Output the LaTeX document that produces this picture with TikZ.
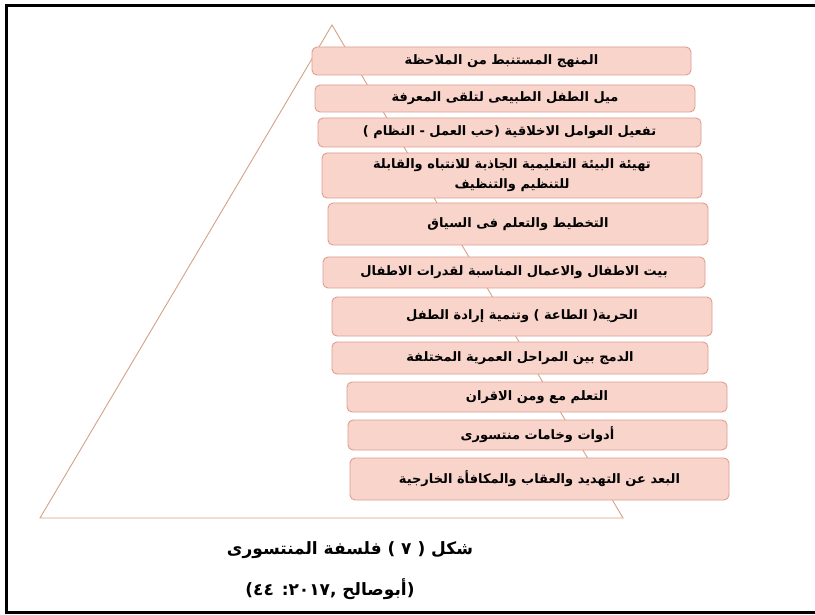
\documentclass[tikz,border=0pt]{standalone}
\usepackage{fontspec}
\TeXXeTstate=1
\newfontfamily\arabicfont[Script=Arabic]{DejaVu Sans}
\definecolor{boxfill}{RGB}{249,212,202}
\definecolor{boxdraw}{RGB}{222,158,145}
\definecolor{tri}{RGB}{214,162,135}
\tikzset{
  box/.style={draw=boxdraw, fill=boxfill, rounded corners=5pt, line width=0.9pt,
    inner sep=0pt, align=center, text=black,
    font=\arabicfont\bfseries\fontsize{13}{20}\selectfont},
  captext/.style={inner sep=0pt, font=\arabicfont\bfseries\fontsize{17}{20}\selectfont},
}
\newcommand\ar[1]{\beginR #1\endR}
\begin{document}
\begin{tikzpicture}[x=1pt,y=-1pt]
\useasboundingbox (0,0) rectangle (815,615);
\fill[white] (0,0) rectangle (815,615);
% frame
\draw[line width=3pt] (815,6) -- (6,6) -- (6,612) -- (815,612);
% triangle
\coordinate (apex) at (332,25);
\coordinate (bl) at (40,518);
\coordinate (br) at (623,518);
\draw[tri, line width=0.9pt, line join=miter] (apex) -- (bl) -- (br) -- cycle;
% boxes
\node[box, minimum width=379pt, minimum height=28pt] (b1) at (501.5,61) {\ar{المنهج المستنبط من الملاحظة}};
\node[box, minimum width=380pt, minimum height=27pt] (b2) at (505,98.5) {\ar{ميل الطفل الطبيعى لتلقى المعرفة}};
\node[box, minimum width=383pt, minimum height=29pt] (b3) at (509.5,132.5) {\ar{تفعيل العوامل الاخلاقية (حب العمل - النظام )}};
\node[box, minimum width=380pt, minimum height=45pt] (b4) at (512,175.5) {\ar{تهيئة البيئة التعليمية الجاذبة للانتباه والقابلة}\\\ar{للتنظيم والتنظيف}};
\node[box, minimum width=380pt, minimum height=42pt] (b5) at (518,224) {\ar{التخطيط والتعلم فى السياق}};
\node[box, minimum width=382pt, minimum height=31pt] (b6) at (514,272.5) {\ar{بيت الاطفال والاعمال المناسبة  لقدرات الاطفال}};
\node[box, minimum width=380pt, minimum height=39pt] (b7) at (522,316.5) {\ar{الحرية( الطاعة )  وتنمية إرادة الطفل}};
\node[box, minimum width=376pt, minimum height=32pt] (b8) at (520,358) {\ar{الدمج بين المراحل العمرية المختلفة}};
\node[box, minimum width=380pt, minimum height=30pt] (b9) at (537,397) {\ar{التعلم مع ومن الاقران}};
\node[box, minimum width=379pt, minimum height=30pt] (b10) at (537.5,435) {\ar{أدوات وخامات منتسورى}};
\node[box, minimum width=379pt, minimum height=42pt] (b11) at (539.5,479) {\ar{البعد عن التهديد والعقاب والمكافأة الخارجية}};
% caption
\node[captext] (cap1) at (350,550) {\ar{شكل ( ٧ ) فلسفة المنتسورى}};
\node[captext] (cap2) at (330,589) {\ar{(أبوصالح ,٢٠١٧: ٤٤)}};
\end{tikzpicture}
\end{document}
